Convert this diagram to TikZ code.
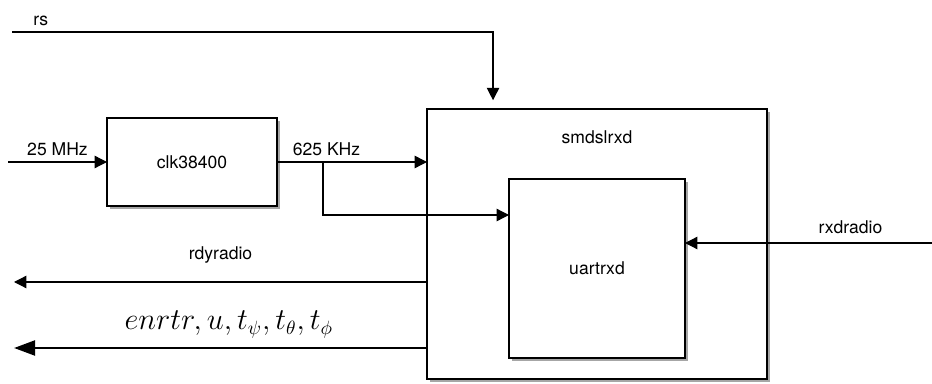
\documentclass[tikz,border=0pt]{standalone}
\usepackage{fontspec}
\setmainfont{TeX Gyre Heros}
\usepackage{tikz}
\usetikzlibrary{arrows.meta, positioning, calc, shadows}

\begin{document}
\begin{tikzpicture}[x=0.02cm, y=-0.02cm,
  box/.style={draw=black, fill=white, line width=0.8pt, inner sep=0pt, outer sep=0pt,
    align=center, font=\fontsize{10}{12}\selectfont,
    drop shadow={shadow xshift=1.8pt, shadow yshift=-1.8pt, opacity=0.35, fill=black}},
  lbl/.style={font=\fontsize{10}{12}\selectfont},
  arr/.style={-{Triangle[length=7pt, width=7pt]}, line width=0.7pt},
  bigarr/.style={-{Triangle[length=12pt, width=8.5pt]}, line width=1.4pt}
]
\useasboundingbox (0,0) rectangle (932,384);
\node[box, minimum width=3.4cm, minimum height=1.76cm] (clk) at (192,162) {clk38400};
\node[box, minimum width=6.8cm, minimum height=5.4cm] (smd) at (597,244) {};
\node[lbl] (smdname) at (597,137) {smdslrxd};
\node[box, minimum width=3.52cm, minimum height=3.58cm, drop shadow={opacity=0}] (uart) at (597,268.5) {uartrxd};
\coordinate (rsin) at (12,32);
\coordinate (clkin) at (8,162);
\coordinate (tap) at (323,162);
\coordinate (rxin) at (932,243);
\coordinate (rdyout) at (14,282);
\coordinate (dataout) at (14,348);
% inputs
\draw[arr, shorten >=5pt] (rsin) -| ([xshift=1.32cm]smd.north west) node[lbl, above, pos=0.03] {rs};
\draw[arr] (clkin) -- (clk) node[lbl, above, midway] {25 MHz};
\draw[arr] (clk.east) -- (clk.east -| smd.west) node[lbl, above, pos=0.33] {625 KHz};
\draw[arr] (tap) |- ([yshift=1.07cm]uart.west);
\draw[arr] (rxin) -- (rxin -| uart.east) node[lbl, above=1.5pt, pos=0.33] {rxdradio};
% outputs
\draw[arr] (smd.west |- rdyout) -- (rdyout) node[lbl, above=7pt, midway] {rdyradio};
\draw[bigarr] (smd.west |- dataout) -- (dataout) node[above=1.5pt, pos=0.48, font=\fontsize{16}{20}\selectfont] {$enrtr, u, t_\psi, t_\theta, t_\phi$};
\end{tikzpicture}
\end{document}
